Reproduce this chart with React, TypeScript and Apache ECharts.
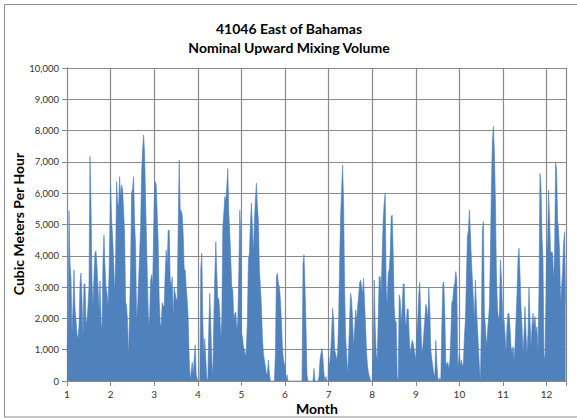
import React, { useEffect, useRef } from 'react';
import * as echarts from 'echarts';

const TITLE_LINE_1 = '41046 East of Bahamas';
const TITLE_LINE_2 = 'Nominal Upward Mixing Volume';
const Y_TITLE = 'Cubic Meters Per Hour';
const X_TITLE = 'Month';
const MONTH_TICKS = [1, 2, 3, 4, 5, 6, 7, 8, 9, 10, 11, 12];
const SAMPLES_PER_MONTH = 43.6;

// Nominal upward mixing volume (m³/h), sampled evenly through each month
const jan = [900, 1750, 5440, 3750, 3300, 1500, 2400, 3550, 2300, 1950, 1500, 1350, 1750, 3100, 3450, 2600, 1450, 3100, 3100, 1850, 1950, 2400, 3000, 7170, 5680, 3200, 2400, 3350, 4100, 4150, 3650, 3000, 2250, 3200, 1950, 1600, 3850, 4660, 3650, 3000, 2800, 2400, 3350];
const feb = [6260, 5150, 4600, 3850, 2800, 3850, 6370, 5680, 5570, 6530, 5890, 6260, 6100, 5460, 4720, 2530, 2400, 1850, 780, 2200, 3650, 6000, 6150, 6530, 5030, 4290, 1950, 2400, 3200, 4080, 4930, 6630, 7380, 7860, 7270, 5780, 4400, 3000, 1750, 2060, 3200, 3400, 3000];
const mar = [5680, 6370, 6260, 5360, 4400, 2590, 1850, 1750, 2500, 2400, 2400, 3440, 4180, 3650, 4820, 4820, 3230, 3000, 3330, 2060, 3000, 2800, 2600, 2600, 5000, 7060, 5450, 5450, 5300, 4700, 3550, 3550, 3000, 2600, 2000, 700, 0, 300, 600, 200, 700, 1150, 200];
const apr = [0, 0, 0, 3600, 4080, 1950, 780, 1360, 670, 100, 0, 1740, 2800, 1740, 670, 140, 1950, 3330, 4450, 3440, 2590, 2640, 2160, 1380, 1950, 4930, 5360, 5890, 5780, 6200, 6790, 5360, 4720, 3870, 3000, 2900, 1950, 2160, 2200, 1620, 1950, 3440, 5460, 4610];
const may = [1520, 1420, 1100, 990, 780, 1040, 1950, 3870, 4080, 5030, 5680, 4930, 4080, 5140, 5780, 6320, 5570, 5140, 3550, 3000, 2380, 1400, 880, 670, 460, 230, 230, 670, 230, 0, 0, 0, 0, 0, 880, 3330, 3440, 3120, 3000, 2590, 1950, 1100, 670];
const jun = [460, 0, 200, 0, 0, 0, 0, 0, 0, 0, 0, 0, 0, 0, 0, 0, 0, 0, 3750, 4030, 3000, 1740, 200, 0, 0, 0, 0, 0, 0, 400, 0, 0, 0, 0, 140, 670, 880, 1040, 670, 230, 0, 140, 0, 0];
const jul = [780, 460, 880, 1520, 2320, 1950, 990, 880, 670, 880, 1950, 3750, 5250, 6100, 6900, 5680, 3000, 1420, 880, 190, 990, 1950, 2800, 2590, 1950, 1100, 1620, 2270, 1950, 2380, 2700, 3120, 3230, 3000, 2800, 3280, 2480, 1740, 880, 460, 230, 140, 0];
const aug = [0, 880, 3230, 1740, 880, 670, 1950, 3330, 3330, 2800, 4080, 5140, 5680, 6000, 3000, 2380, 3440, 3550, 4080, 5250, 5300, 4080, 2380, 1900, 1900, 140, 0, 2750, 2600, 1800, 2380, 3100, 3100, 1950, 1740, 2300, 2300, 1420, 880, 1100, 1300, 1200, 1000];
const sep = [670, 1520, 1950, 2800, 3150, 1950, 880, 1100, 1520, 1950, 2450, 2320, 1950, 3000, 2270, 1000, 700, 460, 230, 140, 1300, 600, 100, 0, 100, 0, 1740, 3080, 3170, 2160, 600, 500, 600, 400, 600, 1420, 2500, 2590, 3000, 3120, 3500, 3230, 400];
const oct = [880, 460, 670, 460, 560, 1420, 1950, 3230, 4610, 4820, 5460, 4720, 3870, 3230, 2590, 1950, 3230, 2380, 1740, 1100, 460, 0, 1950, 4820, 5090, 2160, 1740, 1100, 1520, 1950, 2380, 4080, 6200, 7700, 8130, 7300, 5800, 3500, 2380, 1950, 2160, 3870, 3330, 2380];
const nov = [1740, 1950, 1520, 880, 1740, 2160, 2160, 1740, 1100, 880, 1100, 670, 1100, 1950, 2800, 3870, 4240, 3440, 2380, 1740, 880, 1520, 2380, 1520, 880, 1520, 3000, 1950, 1100, 1740, 2160, 1740, 2060, 1520, 1740, 880, 3000, 6630, 6200, 4610, 3870, 880, 670];
const dec = [4080, 4500, 6100, 5140, 4080, 4130, 4080, 3230, 4080, 7000, 6740, 5140, 4820, 4080, 2480, 3000, 3550, 4400, 4770, 2480];
const MONTHS = [jan, feb, mar, apr, may, jun, jul, aug, sep, oct, nov, dec];

const X_MIN = 1;
const X_MAX = 12.445;
const Y_MAX = 10000;
const Y_STEP = 1000;

const FONT = 'Lato, "Open Sans", sans-serif';

export default function App() {
  const ref = useRef<HTMLDivElement>(null);
  useEffect(() => {
    const chart = echarts.init(ref.current!, null, { renderer: 'svg' });
    const data: [number, number][] = [];
    MONTHS.forEach((arr, mi) => {
      arr.forEach((v, i) => data.push([MONTH_TICKS[mi] + i / SAMPLES_PER_MONTH, v]));
    });
    const gridColor = '#8a8a8a';
    chart.setOption({
      animation: false,
      backgroundColor: '#ffffff',
      grid: { left: 67, right: 11, top: 68, bottom: 37, containLabel: false },
      xAxis: {
        type: 'value',
        min: X_MIN,
        max: X_MAX,
        interval: 1,
        axisLine: { show: true, lineStyle: { color: gridColor, width: 1 } },
        axisTick: { show: true, length: 5, lineStyle: { color: gridColor } },
        splitLine: { show: true, lineStyle: { color: gridColor, width: 1.2 } },
        axisLabel: {
          color: '#333',
          fontSize: 10,
          fontFamily: FONT,
          margin: 8,
          formatter: (v: number) => (MONTH_TICKS.includes(v) ? String(v) : ''),
        },
      },
      yAxis: {
        type: 'value',
        min: 0,
        max: Y_MAX,
        interval: Y_STEP,
        axisLine: { show: true, lineStyle: { color: gridColor, width: 1 } },
        axisTick: { show: true, length: 5, lineStyle: { color: gridColor } },
        splitLine: { show: true, lineStyle: { color: gridColor, width: 1.2 } },
        axisLabel: {
          color: '#333',
          fontSize: 9.5,
          fontFamily: FONT,
          margin: 8,
          formatter: (v: number) => v.toLocaleString('en-US'),
        },
      },
      series: [
        {
          type: 'line',
          data,
          showSymbol: false,
          symbol: 'none',
          lineStyle: { color: '#4f81bd', width: 0.6 },
          areaStyle: { color: '#4f81bd', opacity: 1 },
          itemStyle: { color: '#4f81bd' },
          z: 3,
        },
      ],
      graphic: [
        {
          type: 'rect',
          shape: { x: 4.5, y: 4.5, width: 580, height: 412.5 },
          style: { fill: 'none', stroke: '#8c8c8c', lineWidth: 1 },
          silent: true,
        },
        {
          type: 'text',
          x: 289,
          y: 28,
          style: { text: TITLE_LINE_1, textAlign: 'center', textVerticalAlign: 'middle', font: `bold 14px ${FONT}`, fill: '#000' },
        },
        {
          type: 'text',
          x: 289,
          y: 47,
          style: { text: TITLE_LINE_2, textAlign: 'center', textVerticalAlign: 'middle', font: `bold 14px ${FONT}`, fill: '#000' },
        },
        {
          type: 'text',
          x: 18,
          y: 224,
          rotation: Math.PI / 2,
          style: { text: Y_TITLE, textAlign: 'center', textVerticalAlign: 'middle', font: `bold 14px ${FONT}`, fill: '#000' },
        },
        {
          type: 'text',
          x: 317,
          y: 408,
          style: { text: X_TITLE, textAlign: 'center', textVerticalAlign: 'middle', font: `bold 14px ${FONT}`, fill: '#000' },
        },
      ],
    });
    return () => chart.dispose();
  }, []);
  return (
    <div
      ref={ref}
      style={{ position: 'fixed', left: 0, top: 0, width: 577, height: 418, background: '#fff' }}
    />
  );
}
